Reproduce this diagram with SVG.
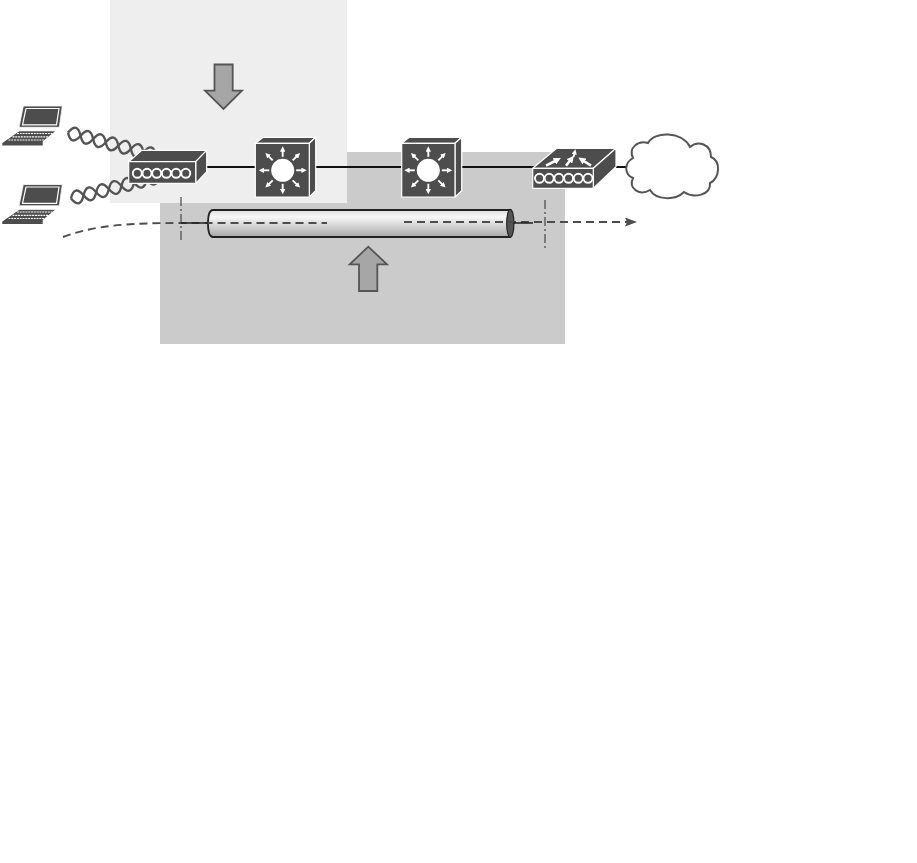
<svg xmlns="http://www.w3.org/2000/svg" xmlns:xlink="http://www.w3.org/1999/xlink" width="917" height="863" viewBox="0 0 917 863">
<style>
.dev{fill:#4d4d4d;stroke:#fff;stroke-width:1.2;stroke-linejoin:round}
.dna{fill:none;stroke:#555;stroke-width:2.4}
.ring{fill:none;stroke:#fff;stroke-width:1.9}
.wire{stroke:#111;stroke-width:2;fill:none}
.dash{stroke:#4d4d4d;stroke-width:1.9;fill:none;stroke-dasharray:8 5}
.axis{stroke:#3a3a3a;stroke-width:1.1;fill:none;stroke-dasharray:9 3 2 3}
.big{fill:#a6a6a6;stroke:#555;stroke-width:1.8}
.wa{stroke:#fff;stroke-width:1.9;fill:none;marker-end:url(#w)}
.wb{stroke:#fff;stroke-width:2.6;fill:none;marker-end:url(#w)}
</style>
<defs>
<marker id="w" viewBox="0 0 4 4" markerWidth="2.800" markerHeight="2.800" refX="1" refY="2" orient="auto"><path d="M0 0L4 2L0 4z" fill="#fff"/></marker>
<marker id="a" markerWidth="12" markerHeight="9" refX="11" refY="4.500" orient="auto" markerUnits="userSpaceOnUse"><path d="M0 0L12 4.500L0 9L2 4.500z" fill="#4d4d4d"/></marker>
<linearGradient id="tube" x1="0" y1="0" x2="0" y2="1"><stop offset="0" stop-color="#dcdcdc"/><stop offset=".25" stop-color="#f8f8f8"/><stop offset="1" stop-color="#a8a8a8"/></linearGradient>
<g id="laptop">
<path d="M23.300 106H62.300L59.300 127.300H19z" fill="#4d4d4d" stroke="#fff" stroke-width=".8"/>
<path d="M26 108.500H59L56.500 124.800H22.500z" fill="#4d4d4d" stroke="#fff" stroke-width="1.200"/>
<path class="dev" d="M19 130.700H56.700L43.300 141.700V146H1.700V142.700z"/>
<path d="M17 133.500H52.500M12.500 136.800H48.500M8.500 140H44.500" stroke="#fff" stroke-width="1.200" stroke-dasharray="2 .8" fill="none"/>
</g>
<g id="wave">
<path class="dna" d="M0 0q6.500 -13 13 0t13 0t13 0t13 0t13 0t13 0t13 0"/>
<path class="dna" d="M0 0q6.500 13 13 0t13 0t13 0t13 0t13 0t13 0t13 0"/>
</g>
<g id="rings">
<circle class="ring" cx="0" r="4.500"/><circle class="ring" cx="9.700" r="4.500"/><circle class="ring" cx="19.400" r="4.500"/><circle class="ring" cx="29.100" r="4.500"/><circle class="ring" cx="38.800" r="4.500"/><circle class="ring" cx="48.500" r="4.500"/>
</g>
<g id="burst">
<circle r="11.500" fill="#fff"/>
<path class="wa" d="M0 -13.500V-20"/><path class="wa" d="M0 13.500V20"/><path class="wa" d="M13.500 0H20"/><path class="wa" d="M-13.500 0H-20"/>
<path class="wa" d="M10 -10L14.500 -14.500"/><path class="wa" d="M-10 -10L-14.500 -14.500"/><path class="wa" d="M10 10L14.500 14.500"/><path class="wa" d="M-10 10L-14.500 14.500"/>
</g>
</defs>
<rect width="917" height="863" fill="#fff"/>
<rect x="160" y="152" width="405" height="192" fill="#cbcbcb"/>
<rect x="110" y="0" width="237" height="203" fill="#eeeeee"/>
<g id="connectors">
<path class="wire" d="M205 167H255M315 167H402M460 167H534M616 167H629"/>
<g transform="translate(68 132.500) rotate(14.600)"><use xlink:href="#wave"/></g>
<g transform="translate(71 198.500) rotate(-14)"><use xlink:href="#wave"/></g>
</g>
<g id="tube-pipe">
<path d="M213 210H510V237H213Q208 237 208 223.500Q208 210 213 210z" fill="url(#tube)" stroke="#222" stroke-width="1.800"/>
<ellipse cx="510.300" cy="223.300" rx="3.600" ry="14" fill="#555" stroke="#222" stroke-width="1.200"/>
</g>
<g id="paths">
<path class="dash" d="M63 237C95 225 130 223 181 223H327"/>
<path class="dash" d="M404 222H636" marker-end="url(#a)"/>
<path d="M181 223H208M513 223H533" stroke="#222" stroke-width="1.300" fill="none"/>
<path class="axis" d="M181 197V243"/>
<path class="axis" d="M545 200V249"/>
</g>
<g id="laptop-1"><use xlink:href="#laptop"/></g>
<g id="laptop-2"><use xlink:href="#laptop" y="78.500"/></g>
<g id="access-switch">
<path class="dev" d="M128.700 161.700L141.700 150.300H206.700L195.700 161.700z"/>
<path class="dev" d="M195.700 161.700L206.700 150.300V171.700L195.700 183.300z"/>
<rect class="dev" x="128.700" y="161.700" width="67" height="21.600"/>
<use xlink:href="#rings" x="137.300" y="173.300"/>
</g>
<g id="l3-switch-1">
<path class="dev" d="M255.300 143.300L263.300 137.300H315.700L309.300 143.300z"/>
<path class="dev" d="M309.300 143.300L315.700 137.300V190.700L309.300 197z"/>
<rect class="dev" x="255.300" y="143.300" width="54" height="53.700"/>
<use xlink:href="#burst" x="282.700" y="170.300"/>
</g>
<g id="l3-switch-2">
<path class="dev" d="M401.700 143.300L409.300 137.300H461.700L455 143.300z"/>
<path class="dev" d="M455 143.300L461.700 137.300V190.700L455 197z"/>
<rect class="dev" x="401.700" y="143.300" width="53.300" height="53.700"/>
<use xlink:href="#burst" x="428.300" y="170.300"/>
</g>
<g id="router">
<path class="dev" d="M532.700 168.300L556.700 148.300H616L593.300 168.300z"/>
<path class="dev" d="M593.300 168.300L616 148.300V166.700L593.300 188.300z"/>
<rect class="dev" x="532.700" y="168.300" width="60.600" height="20"/>
<use xlink:href="#rings" x="539.500" y="178.300"/>
<path class="wb" d="M546 165.700L556 160.500"/><path class="wb" d="M566 165.700L570.500 160"/><path class="wb" d="M591 165.700L583 160.500"/><path class="wa" d="M573.500 157L574.500 153"/>
</g>
<g id="cloud">
<path d="M633 178C624 174 624 163 633 158C628 148 638 140 648 143C654 131 682 131 690 147C698 140 711 144 711 157C721 161 720 178 710 183C711 195 694 199 684 192C675 201 656 200 650 190C640 196 628 189 633 178z" fill="#fff" stroke="#555" stroke-width="2"/>
</g>
<g id="arrow-down"><path class="big" d="M214.500 64.500H232.700V90.700H242L223.500 109L205 90.700H214.500z"/></g>
<g id="arrow-up"><path class="big" d="M359 291V264.300H349.700L368.300 246.700L387 264.300H377.300V291z"/></g>
</svg>
